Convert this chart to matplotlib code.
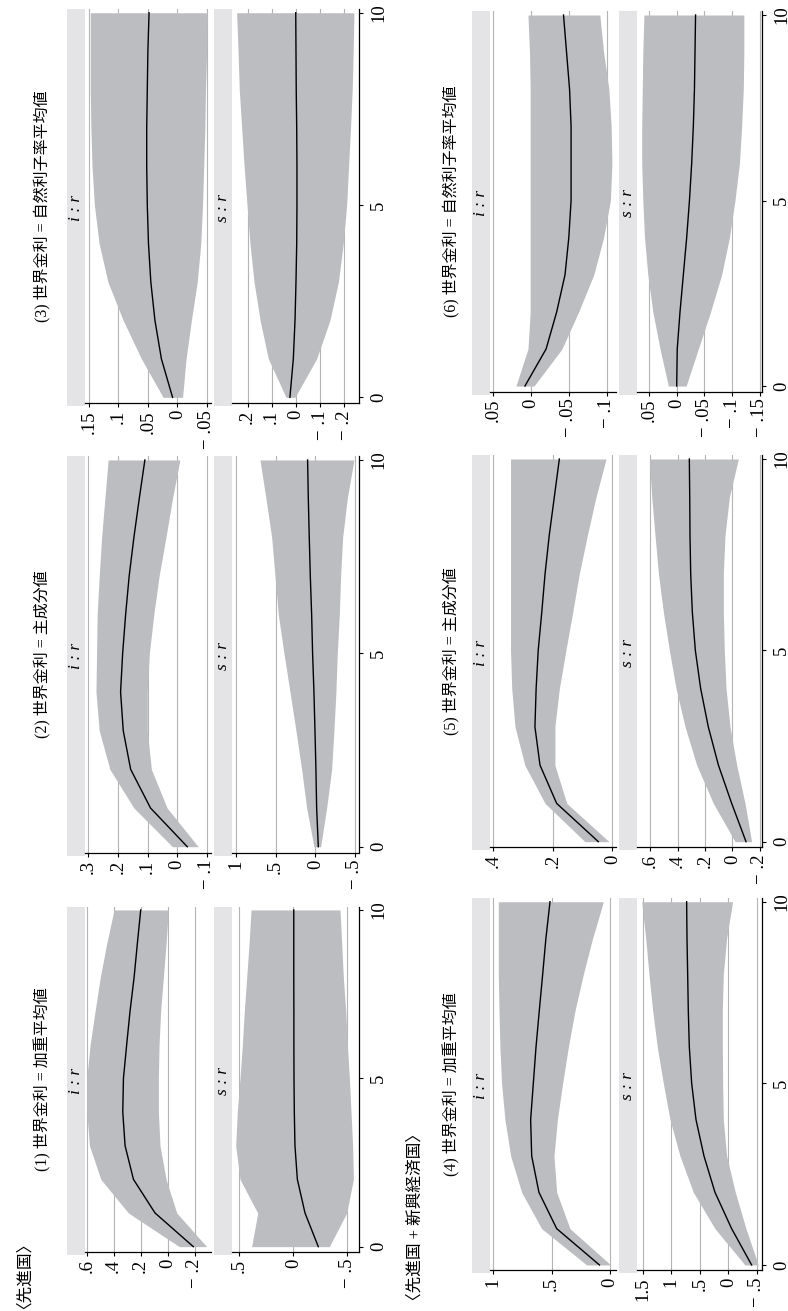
import matplotlib.pyplot as plt

W, H = 788, 1311
SERIF = ['Liberation Serif', 'Noto Sans CJK JP']
BAND = '#bcbdc1'
STRIP = '#e4e4e6'
GRID = '#b4b4b4'
M = '\u2212 '

horizon = list(range(11))

titles = ['(1) 世界金利 = 加重平均値', '(2) 世界金利 = 主成分値',
          '(3) 世界金利 = 自然利子率平均値', '(4) 世界金利 = 加重平均値',
          '(5) 世界金利 = 主成分値', '(6) 世界金利 = 自然利子率平均値']
groups = ['〈先進国〉', '〈先進国 + 新興経済国〉']
strip_labels = ['i : r', 's : r']
horizon_ticks = [0, 5, 10]

# (1) 先進国, 加重平均値
p1_i_mid = [-0.190, 0.094, 0.254, 0.316, 0.333, 0.328, 0.304, 0.279, 0.249, 0.225, 0.200]
p1_i_hi = [-0.086, 0.291, 0.496, 0.580, 0.600, 0.600, 0.575, 0.538, 0.500, 0.452, 0.398]
p1_i_lo = [-0.289, -0.067, 0.012, 0.057, 0.069, 0.069, 0.064, 0.052, 0.032, 0.012, -0.005]
p1_s_mid = [-0.231, -0.108, -0.037, -0.015, -0.009, -0.006, -0.005, -0.005, -0.004, -0.004, -0.004]
p1_s_hi = [0.386, 0.330, 0.494, 0.534, 0.519, 0.494, 0.472, 0.454, 0.432, 0.410, 0.392]
p1_s_lo = [-0.333, -0.494, -0.556, -0.549, -0.534, -0.519, -0.500, -0.485, -0.463, -0.448, -0.432]

# (2) 先進国, 主成分値
p2_i_mid = [-0.034, 0.090, 0.157, 0.182, 0.191, 0.184, 0.174, 0.162, 0.146, 0.128, 0.109]
p2_i_hi = [0.016, 0.146, 0.227, 0.263, 0.274, 0.272, 0.270, 0.263, 0.255, 0.244, 0.233]
p2_i_lo = [-0.071, 0.034, 0.087, 0.101, 0.101, 0.094, 0.079, 0.061, 0.038, 0.016, -0.009]
p2_s_mid = [-0.038, -0.017, -0.008, 0.004, 0.017, 0.034, 0.046, 0.063, 0.076, 0.088, 0.097]
p2_s_hi = [0.017, 0.109, 0.172, 0.244, 0.319, 0.395, 0.466, 0.508, 0.550, 0.622, 0.697]
p2_s_lo = [-0.067, -0.143, -0.206, -0.235, -0.260, -0.277, -0.303, -0.319, -0.345, -0.403, -0.487]

# (3) 先進国, 自然利子率平均値
p3_i_mid = [0.008, 0.027, 0.038, 0.045, 0.049, 0.051, 0.052, 0.052, 0.051, 0.050, 0.048]
p3_i_hi = [0.024, 0.061, 0.092, 0.118, 0.133, 0.141, 0.145, 0.147, 0.148, 0.148, 0.148]
p3_i_lo = [-0.009, -0.015, -0.024, -0.034, -0.040, -0.043, -0.045, -0.047, -0.048, -0.050, -0.051]
p3_s_mid = [0.025, 0.011, 0.004, 0.000, -0.003, -0.004, -0.004, -0.003, -0.001, 0.000, 0.001]
p3_s_hi = [0.041, 0.114, 0.148, 0.173, 0.190, 0.202, 0.214, 0.224, 0.234, 0.239, 0.245]
p3_s_lo = [0.004, -0.085, -0.140, -0.175, -0.195, -0.209, -0.217, -0.225, -0.232, -0.236, -0.239]

# (4) 先進国+新興経済国, 加重平均値
p4_i_mid = [0.091, 0.457, 0.609, 0.671, 0.680, 0.657, 0.634, 0.606, 0.577, 0.549, 0.514]
p4_i_hi = [0.200, 0.586, 0.757, 0.851, 0.900, 0.929, 0.943, 0.951, 0.957, 0.957, 0.957]
p4_i_lo = [-0.006, 0.343, 0.457, 0.480, 0.451, 0.406, 0.357, 0.300, 0.229, 0.149, 0.057]
p4_s_mid = [-0.409, -0.058, 0.234, 0.427, 0.567, 0.643, 0.684, 0.702, 0.713, 0.725, 0.731]
p4_s_hi = [-0.292, 0.234, 0.614, 0.848, 1.023, 1.140, 1.246, 1.327, 1.392, 1.450, 1.520]
p4_s_lo = [-0.526, -0.310, -0.123, 0.029, 0.088, 0.099, 0.105, 0.105, 0.088, 0.029, -0.076]

# (5) 先進国+新興経済国, 主成分値
p5_i_mid = [0.047, 0.187, 0.243, 0.260, 0.256, 0.249, 0.237, 0.226, 0.212, 0.195, 0.178]
p5_i_hi = [0.092, 0.226, 0.294, 0.327, 0.338, 0.342, 0.342, 0.342, 0.342, 0.342, 0.342]
p5_i_lo = [0.011, 0.153, 0.193, 0.193, 0.178, 0.156, 0.133, 0.111, 0.084, 0.055, 0.021]
p5_s_mid = [-0.100, 0.005, 0.102, 0.176, 0.232, 0.271, 0.293, 0.305, 0.310, 0.312, 0.315]
p5_s_hi = [-0.020, 0.139, 0.261, 0.346, 0.412, 0.461, 0.505, 0.541, 0.566, 0.590, 0.607]
p5_s_lo = [-0.141, -0.093, -0.032, 0.017, 0.046, 0.059, 0.066, 0.066, 0.054, 0.022, -0.044]

# (6) 先進国+新興経済国, 自然利子率平均値
p6_i_mid = [0.008, -0.020, -0.034, -0.045, -0.050, -0.053, -0.053, -0.053, -0.051, -0.047, -0.043]
p6_i_hi = [0.020, 0.004, 0.001, 0.001, 0.001, 0.001, 0.001, 0.001, 0.001, 0.002, 0.004]
p6_i_lo = [-0.004, -0.041, -0.063, -0.083, -0.096, -0.105, -0.107, -0.106, -0.103, -0.096, -0.091]
p6_s_mid = [0.000, -0.001, -0.006, -0.012, -0.018, -0.023, -0.027, -0.030, -0.032, -0.033, -0.034]
p6_s_hi = [0.015, 0.030, 0.043, 0.052, 0.058, 0.061, 0.063, 0.063, 0.062, 0.061, 0.059]
p6_s_lo = [-0.017, -0.039, -0.061, -0.081, -0.095, -0.105, -0.113, -0.117, -0.120, -0.121, -0.121]

# value-axis ticks and their labels (Stata style)
p1_i_ticks, p1_i_labels = [0.6, 0.4, 0.2, 0, -0.2], ['.6', '.4', '.2', '0', M + '.2']
p1_s_ticks, p1_s_labels = [0.5, 0, -0.5], ['.5', '0', M + '.5']
p2_i_ticks, p2_i_labels = [0.3, 0.2, 0.1, 0, -0.1], ['.3', '.2', '.1', '0', M + '.1']
p2_s_ticks, p2_s_labels = [1, 0.5, 0, -0.5], ['1', '.5', '0', M + '.5']
p3_i_ticks, p3_i_labels = [0.15, 0.1, 0.05, 0, -0.05], ['.15', '.1', '.05', '0', M + '.05']
p3_s_ticks, p3_s_labels = [0.2, 0.1, 0, -0.1, -0.2], ['.2', '.1', '0', M + '.1', M + '.2']
p4_i_ticks, p4_i_labels = [1, 0.5, 0], ['1', '.5', '0']
p4_s_ticks, p4_s_labels = [1.5, 1, 0.5, 0, -0.5], ['1.5', '1', '.5', '0', M + '.5']
p5_i_ticks, p5_i_labels = [0.4, 0.2, 0], ['.4', '.2', '0']
p5_s_ticks, p5_s_labels = [0.6, 0.4, 0.2, 0, -0.2], ['.6', '.4', '.2', '0', M + '.2']
p6_i_ticks, p6_i_labels = [0.05, 0, -0.05, -0.1], ['.05', '0', M + '.05', M + '.1']
p6_s_ticks, p6_s_labels = [0.05, 0, -0.05, -0.1, -0.15], ['.05', '0', M + '.05', M + '.1', M + '.15']

fig = plt.figure(figsize=(W / 100, H / 100), dpi=100)


def px_axes(x0, y0, x1, y1):
    # pixel box (top-left origin) -> figure axes
    return fig.add_axes([x0 / W, 1 - y1 / H, (x1 - x0) / W, (y1 - y0) / H])


def subpanel(x0, x1, top, bot, lim, ticks, labels, mid, lo, hi, strip, right_axis):
    s = px_axes(x0 - 18, top, x0, bot + 3)
    s.set_facecolor(STRIP)
    s.set_xticks([])
    s.set_yticks([])
    for sp in s.spines.values():
        sp.set_visible(False)
    s.text(0.5, 0.5, strip, rotation=90, ha='center', va='center',
           transform=s.transAxes, family='Liberation Serif', style='italic',
           fontsize=12.5)

    ax = px_axes(x0, top, x1, bot)
    ax.fill_betweenx(horizon, lo, hi, color=BAND, lw=0, zorder=2)
    ax.plot(mid, horizon, color='black', lw=1.0, zorder=3)
    ax.set_xlim(lim)
    ax.set_ylim(-0.15, 10.1)
    ax.set_xticks(ticks)
    ax.set_xticklabels(labels, rotation=90, family='Liberation Serif', fontsize=13.5)
    ax.tick_params(axis='x', length=3, width=0.8, pad=2)
    ax.grid(axis='x', color=GRID, lw=0.8)
    ax.set_axisbelow(True)
    ax.spines['top'].set_visible(False)
    ax.spines['left'].set_visible(False)
    ax.spines['bottom'].set_linewidth(0.9)
    if right_axis:
        ax.spines['right'].set_linewidth(0.9)
        ax.yaxis.tick_right()
        ax.set_yticks(horizon_ticks)
        ax.set_yticklabels([str(t) for t in horizon_ticks], rotation=90,
                           va='center', family='Liberation Serif', fontsize=13.5)
        ax.tick_params(axis='y', length=3, width=0.8, pad=5)
    else:
        ax.spines['right'].set_visible(False)
        ax.set_yticks([])
    return ax


# panel layouts: column x positions and panel top/bottom in pixels
left_col = dict(ix=(85, 211), sx=(232, 359), title_x=43)
right_col = dict(ix=(490, 616), sx=(637, 762), title_x=452)

panels = [
    (left_col, 906.6, 1251.7, (0.613, -0.321), (0.568, -0.608),
     (p1_i_ticks, p1_i_labels, p1_i_mid, p1_i_lo, p1_i_hi),
     (p1_s_ticks, p1_s_labels, p1_s_mid, p1_s_lo, p1_s_hi)),
    (left_col, 456.1, 852.5, (0.311, -0.114), (1.05, -0.551),
     (p2_i_ticks, p2_i_labels, p2_i_mid, p2_i_lo, p2_i_hi),
     (p2_s_ticks, p2_s_labels, p2_s_mid, p2_s_lo, p2_s_hi)),
    (left_col, 8.9, 403.1, (0.157, -0.0574), (0.264, -0.26),
     (p3_i_ticks, p3_i_labels, p3_i_mid, p3_i_lo, p3_i_hi),
     (p3_s_ticks, p3_s_labels, p3_s_mid, p3_s_lo, p3_s_hi)),
    (right_col, 898.1, 1270.4, (1.028, -0.051), (1.602, -0.591),
     (p4_i_ticks, p4_i_labels, p4_i_mid, p4_i_lo, p4_i_hi),
     (p4_s_ticks, p4_s_labels, p4_s_mid, p4_s_lo, p4_s_hi)),
    (right_col, 455.2, 847.4, (0.411, -0.0124), (0.698, -0.217),
     (p5_i_ticks, p5_i_labels, p5_i_mid, p5_i_lo, p5_i_hi),
     (p5_s_ticks, p5_s_labels, p5_s_mid, p5_s_lo, p5_s_hi)),
    (right_col, 11.3, 391.6, (0.0542, -0.1124), (0.0715, -0.1537),
     (p6_i_ticks, p6_i_labels, p6_i_mid, p6_i_lo, p6_i_hi),
     (p6_s_ticks, p6_s_labels, p6_s_mid, p6_s_lo, p6_s_hi)),
]

for k, (col, top, bot, ilim, slim, idata, sdata) in enumerate(panels):
    subpanel(col['ix'][0], col['ix'][1], top, bot, ilim, *idata, strip_labels[0], False)
    subpanel(col['sx'][0], col['sx'][1], top, bot, slim, *sdata, strip_labels[1], True)
    fig.text(col['title_x'] / W, 1 - (top + bot) / 2 / H, titles[k], rotation=90,
             ha='center', va='center', family=SERIF, fontsize=11.5)

fig.text(17 / W, 1 - 1309 / H, groups[0], rotation=90, ha='center', va='bottom',
         family=SERIF, fontsize=12)
fig.text(416 / W, 1 - 1309 / H, groups[1], rotation=90, ha='center', va='bottom',
         family=SERIF, fontsize=12)

fig.savefig('out.png', dpi=100)
